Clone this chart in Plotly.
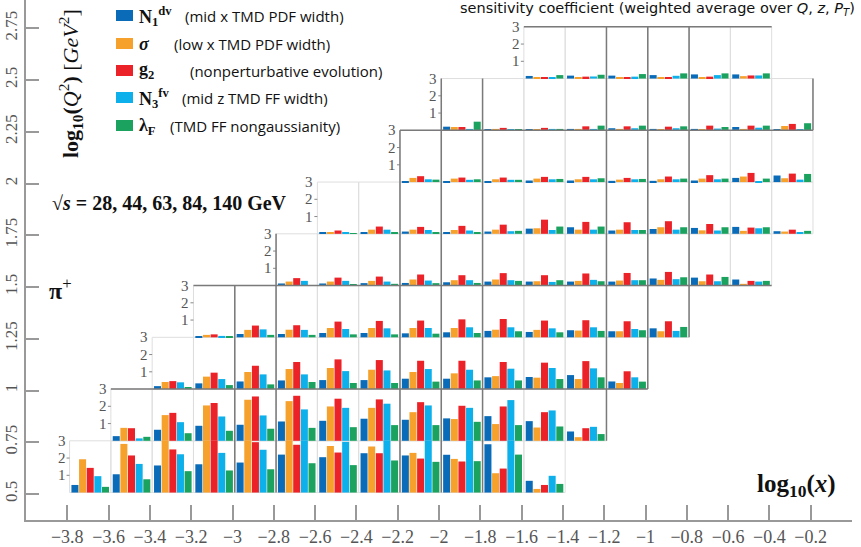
import plotly.graph_objects as go

# ---------------- data ----------------
PARAM_NAMES = ["N1dv", "sigma", "g2", "N3fv", "lambdaF"]
COLORS = ["#0a6cb8", "#f6a12c", "#eb2227", "#0db0ea", "#1ba25f"]

ROW_Q2 = [0.5, 0.75, 1.0, 1.25, 1.5, 1.75, 2.0, 2.25, 2.5]          # lower edge of log10(Q^2) bin
ROW_X_START = [-3.8, -3.6, -3.4, -3.2, -2.8, -2.6, -2.2, -2.0, -1.6]  # first log10(x) bin of each row
X_BIN = 0.2
Q2_BIN = 0.25
SCALE_MAX = 3.0

N1_DV = [
    [0.44, 1.06, 1.57, 1.64, 1.74, 2.2, 2.05, 2.28, 2.15, 2.19, 2.8, 0.68],
    [0.27, 0.64, 0.87, 0.93, 1.12, 1.16, 1.28, 1.22, 1.3, 1.43, 1.14, 0.54],
    [0.17, 0.33, 0.44, 0.5, 0.52, 0.52, 0.6, 0.6, 0.68, 0.7, 0.81, 0.44],
    [0.06, 0.19, 0.19, 0.25, 0.25, 0.23, 0.29, 0.37, 0.31, 0.41, 0.35, 0.52],
    [0.12, 0.12, 0.14, 0.15, 0.19, 0.23, 0.23, 0.23, 0.23, 0.41, 0.46, 0.35],
    [0.05, 0.1, 0.13, 0.09, 0.13, 0.3, 0.38, 0.19, 0.28, 0.34, 0.4, 0.15],
    [0.05, 0.05, 0.05, 0.09, 0.09, 0.07, 0.07, 0.09, 0.24, 0.38],
    [0.21, 0.02, 0.06, 0.08, 0.12, 0.08, 0.08, 0.19, 0.06],
    [0.15, 0.17, 0.17, 0.2, 0.24, 0.24],
]
SIGMA = [
    [1.93, 2.82, 3.0, 3.0, 3.0, 3.0, 2.7, 2.67, 2.3, 1.95, 1.12, 0.21],
    [0.75, 1.49, 2.05, 2.38, 2.3, 1.99, 1.91, 1.66, 1.26, 0.97, 0.77, 0.21],
    [0.41, 0.72, 0.99, 1.16, 1.22, 1.12, 0.99, 0.91, 0.75, 0.66, 0.58, 0.35],
    [0.14, 0.43, 0.44, 0.54, 0.54, 0.54, 0.54, 0.44, 0.43, 0.39, 0.35, 0.35],
    [0.23, 0.23, 0.27, 0.35, 0.31, 0.35, 0.25, 0.27, 0.29, 0.33, 0.25, 0.1],
    [0.09, 0.24, 0.24, 0.22, 0.24, 0.32, 0.24, 0.24, 0.38, 0.2, 0.17, 0.13],
    [0.24, 0.2, 0.16, 0.2, 0.16, 0.14, 0.16, 0.2, 0.32, 0.22],
    [0.19, 0.08, 0.06, 0.08, 0.08, 0.06, 0.04, 0.08, 0.25],
    [0.05, 0.07, 0.05, 0.09, 0.09, 0.14],
]
G2 = [
    [1.43, 2.15, 2.5, 3.0, 2.92, 2.77, 2.32, 2.28, 1.97, 1.8, 1.39, 0.44],
    [0.73, 1.62, 2.19, 2.57, 2.61, 2.44, 2.4, 2.24, 2.03, 1.99, 1.66, 0.73],
    [0.46, 0.95, 1.35, 1.57, 1.72, 1.68, 1.64, 1.64, 1.57, 1.53, 1.62, 1.03],
    [0.17, 0.68, 0.7, 0.91, 0.95, 0.97, 1.04, 1.06, 0.97, 0.99, 0.93, 0.93],
    [0.43, 0.46, 0.52, 0.64, 0.6, 0.72, 0.6, 0.7, 0.73, 0.79, 0.64, 0.27],
    [0.19, 0.42, 0.4, 0.46, 0.53, 0.82, 0.69, 0.67, 0.73, 0.57, 0.36, 0.24],
    [0.34, 0.26, 0.26, 0.3, 0.3, 0.24, 0.32, 0.4, 0.53, 0.49],
    [0.19, 0.14, 0.14, 0.23, 0.23, 0.21, 0.27, 0.27, 0.37],
    [0.05, 0.11, 0.09, 0.09, 0.11, 0.18],
]
N3_FV = [
    [0.95, 1.66, 2.22, 2.3, 2.48, 3.0, 2.94, 3.0, 3.0, 3.0, 3.0, 0.97],
    [0.14, 1.08, 1.41, 1.47, 1.82, 1.91, 2.15, 2.05, 1.91, 2.36, 1.76, 0.81],
    [0.39, 0.58, 0.85, 0.85, 1.04, 1.08, 1.16, 1.12, 1.18, 1.22, 1.2, 0.68],
    [0.08, 0.46, 0.43, 0.48, 0.52, 0.54, 0.58, 0.58, 0.52, 0.58, 0.48, 0.37],
    [0.27, 0.27, 0.23, 0.29, 0.31, 0.31, 0.21, 0.33, 0.31, 0.37, 0.25, 0.23],
    [0.05, 0.24, 0.22, 0.19, 0.15, 0.22, 0.24, 0.22, 0.24, 0.19, 0.32, 0.05],
    [0.16, 0.13, 0.13, 0.16, 0.16, 0.16, 0.16, 0.16, 0.05, 0.14],
    [0.08, 0.06, 0.08, 0.08, 0.12, 0.12, 0.1, 0.15, 0.02],
    [0.09, 0.12, 0.11, 0.16, 0.2, 0.18],
]
LAMBDA_F = [
    [0.33, 0.77, 1.24, 1.28, 1.35, 1.7, 1.59, 1.86, 1.78, 1.82, 2.2, 0.5],
    [0.23, 0.44, 0.58, 0.7, 0.75, 0.79, 0.91, 0.91, 1.1, 0.91, 0.83, 0.39],
    [0.12, 0.23, 0.27, 0.41, 0.35, 0.35, 0.43, 0.5, 0.5, 0.58, 0.68, 0.43],
    [0.02, 0.14, 0.14, 0.17, 0.17, 0.21, 0.25, 0.35, 0.29, 0.37, 0.41, 0.6],
    [0.02, 0.08, 0.1, 0.14, 0.15, 0.27, 0.31, 0.25, 0.31, 0.48, 0.5, 0.27],
    [0.03, 0.09, 0.09, 0.09, 0.17, 0.42, 0.42, 0.22, 0.38, 0.38, 0.38, 0.17],
    [0.14, 0.16, 0.13, 0.18, 0.22, 0.18, 0.2, 0.2, 0.2, 0.47],
    [0.5, 0.02, 0.08, 0.27, 0.27, 0.23, 0.19, 0.27, 0.41],
    [0.2, 0.22, 0.26, 0.3, 0.3, 0.3],
]
SERIES = [N1_DV, SIGMA, G2, N3_FV, LAMBDA_F]

LEGEND_SYMBOLS = ["<b>N</b><sub><b>1</b></sub><sup><b>dv</b></sup>", "<b><i>σ</i></b>", "<b>g</b><sub><b>2</b></sub>",
                  "<b>N</b><sub><b>3</b></sub><sup><b>fv</b></sup>", "<b>λ</b><sub><b>F</b></sub>"]
LEGEND_TEXT = ["(mid x TMD PDF width)", "(low x TMD PDF width)", "(nonperturbative evolution)",
               "(mid z TMD FF width)", "(TMD FF nongaussianity)"]

X_TICKS = [-3.8, -3.6, -3.4, -3.2, -3.0, -2.8, -2.6, -2.4, -2.2, -2.0, -1.8, -1.6, -1.4, -1.2, -1.0,
           -0.8, -0.6, -0.4, -0.2]
Y_TICKS = [0.5, 0.75, 1.0, 1.25, 1.5, 1.75, 2.0, 2.25, 2.5, 2.75]

# dark boundary lines (x, y_from, y_to) / (y, x_from, x_to)
DARK_V = [(-3.0, 0.5, 1.5), (-2.8, 0.5, 1.75), (-2.2, 0.5, 2.25), (-2.0, 0.5, 2.5), (-1.8, 0.5, 2.5),
          (-1.2, 0.75, 2.75), (-1.0, 1.0, 2.75), (-0.8, 1.25, 2.75), (-0.2, 2.25, 2.5)]
DARK_H = [(2.75, -1.6, -0.4), (2.25, -2.2, -0.2), (1.5, -3.2, -0.4), (1.0, -3.6, -1.0)]

# ---------------- geometry ----------------
W, H = 861, 547
ML, MR, MT, MB = 26, 9, 0, 27
XMIN, XMAX = -4.0, 0.0
PW, PH = W - ML - MR, H - MT - MB
PXX = PW / (XMAX - XMIN)
PXY = 207.0
YMIN = 0.5 - 26 / PXY
YMAX = YMIN + PH / PXY
XOFF = 0.011   # small offset of panel grid w.r.t. axis
YOFF = 0.007
BAR_STEP = 0.037
BAR_W = 0.034
UNIT = Q2_BIN / SCALE_MAX


def ppx(px):   # pixel -> paper x
    return (px - ML) / PW


def ppy(py):   # pixel -> paper y
    return (H - MB - py) / PH


fig = go.Figure()

# bars
for k, series in enumerate(SERIES):
    xs, hs, bs = [], [], []
    for r, row_vals in enumerate(series):
        for i, v in enumerate(row_vals):
            left = ROW_X_START[r] + i * X_BIN + XOFF
            xs.append(left + X_BIN / 2 + (k - 2) * BAR_STEP)
            hs.append(min(v, SCALE_MAX) * UNIT)
            bs.append(ROW_Q2[r] + YOFF)
    fig.add_trace(go.Bar(x=xs, y=hs, base=bs, width=BAR_W, marker=dict(color=COLORS[k], line=dict(width=0)),
                         name=PARAM_NAMES[k], showlegend=False, hoverinfo="skip"))

shapes = []
annotations = []
# light panel borders
for r in range(len(ROW_Q2)):
    n = len(N1_DV[r])
    y0 = ROW_Q2[r] + YOFF
    for i in range(n):
        x0 = ROW_X_START[r] + i * X_BIN + XOFF
        shapes.append(dict(type="rect", x0=x0, x1=x0 + X_BIN, y0=y0, y1=y0 + Q2_BIN,
                           line=dict(color="#dedede", width=1), layer="below"))
    xl = ROW_X_START[r] + XOFF
    for lv in (1, 2, 3):
        annotations.append(dict(x=xl, y=y0 + lv * UNIT, text=str(lv), showarrow=False, xanchor="right",
                                yanchor="middle", xshift=-2,
                                font=dict(family="Liberation Serif", size=15, color="#555")))
    for lv in (1, 2):
        shapes.append(dict(type="line", x0=xl - 3 / PXX, x1=xl, y0=y0 + lv * UNIT, y1=y0 + lv * UNIT,
                           line=dict(color="#888", width=1)))

for (x, ya, yb) in DARK_V:
    shapes.append(dict(type="line", x0=x + XOFF, x1=x + XOFF, y0=ya + YOFF, y1=yb + YOFF,
                       line=dict(color="#7a7a7a", width=1.5)))
for (y, xa, xb) in DARK_H:
    shapes.append(dict(type="line", x0=xa + XOFF, x1=xb + XOFF, y0=y + YOFF, y1=y + YOFF,
                       line=dict(color="#7a7a7a", width=1.5)))

# legend
LEG_Y = [16, 44, 71, 98, 126]
DESC_X = [183, 172, 188, 180, 168]
for k in range(5):
    py = LEG_Y[k]
    shapes.append(dict(type="rect", xref="paper", yref="paper", x0=ppx(116), x1=ppx(133),
                       y0=ppy(py + 5), y1=ppy(py - 6), fillcolor=COLORS[k], line=dict(width=0)))
    annotations.append(dict(xref="paper", yref="paper", x=ppx(137), y=ppy(py), text=LEGEND_SYMBOLS[k],
                            showarrow=False, xanchor="left", yanchor="middle",
                            font=dict(family="Liberation Serif", size=18, color="#111")))
    annotations.append(dict(xref="paper", yref="paper", x=ppx(DESC_X[k]), y=ppy(py), text=LEGEND_TEXT[k],
                            showarrow=False, xanchor="left", yanchor="middle",
                            font=dict(family="Open Sans", size=15, color="#111")))

for a in [
    dict(x=ppx(71), y=ppy(84), text="<b>log</b><sub><b>10</b></sub><b>(</b><i>Q</i><sup>2</sup><b>)</b> [<i>GeV</i><sup>2</sup>]",
         textangle=-90, xanchor="center", yanchor="middle",
         font=dict(family="Liberation Serif", size=22, color="#111")),
    dict(x=ppx(50), y=ppy(203), text="<b>√<i>s</i> = 28, 44, 63, 84, 140 GeV</b>",
         xanchor="left", yanchor="middle", font=dict(family="Liberation Serif", size=20, color="#111")),
    dict(x=ppx(47), y=ppy(289), text="<b>π</b><sup>+</sup>",
         xanchor="left", yanchor="middle", font=dict(family="Liberation Serif", size=24, color="#111")),
    dict(x=ppx(838), y=ppy(485), text="<b>log</b><sub><b>10</b></sub><b>(</b><b><i>x</i></b><b>)</b>",
         xanchor="right", yanchor="middle", font=dict(family="Liberation Serif", size=25, color="#111")),
    dict(x=ppx(857), y=ppy(9), text="sensitivity coefficient (weighted average over <i>Q</i>, <i>z</i>, <i>P</i><sub><i>T</i></sub>)",
         xanchor="right", yanchor="middle", font=dict(family="DejaVu Sans", size=14.5, color="#111")),
]:
    a.update(xref="paper", yref="paper", showarrow=False)
    annotations.append(a)


def fmt(v):
    s = ("%g" % abs(v))
    return ("−" + s) if v < 0 else s


fig.update_layout(
    width=W, height=H, margin=dict(l=ML, r=MR, t=MT, b=MB),
    paper_bgcolor="white", plot_bgcolor="white", barmode="overlay",
    shapes=shapes, annotations=annotations, showlegend=False,
    xaxis=dict(range=[XMIN, XMAX], tickvals=X_TICKS, ticktext=[fmt(v) for v in X_TICKS],
               ticks="inside", ticklen=15, tickwidth=1.5, tickcolor="#999", showgrid=False, zeroline=False,
               showline=True, linecolor="#999", linewidth=1.5,
               tickfont=dict(family="Liberation Serif", size=18, color="#555")),
    yaxis=dict(range=[YMIN, YMAX], tickvals=Y_TICKS, ticktext=[fmt(v) for v in Y_TICKS], tickangle=-90,
               ticks="inside", ticklen=13, tickwidth=1.5, tickcolor="#999", showgrid=False, zeroline=False,
               showline=True, linecolor="#999", linewidth=1.5,
               tickfont=dict(family="Liberation Serif", size=17, color="#555")),
)

fig.write_html("out.html", config={"displayModeBar": False},
               post_script="document.body.style.margin='0px';document.body.style.padding='0px';")
